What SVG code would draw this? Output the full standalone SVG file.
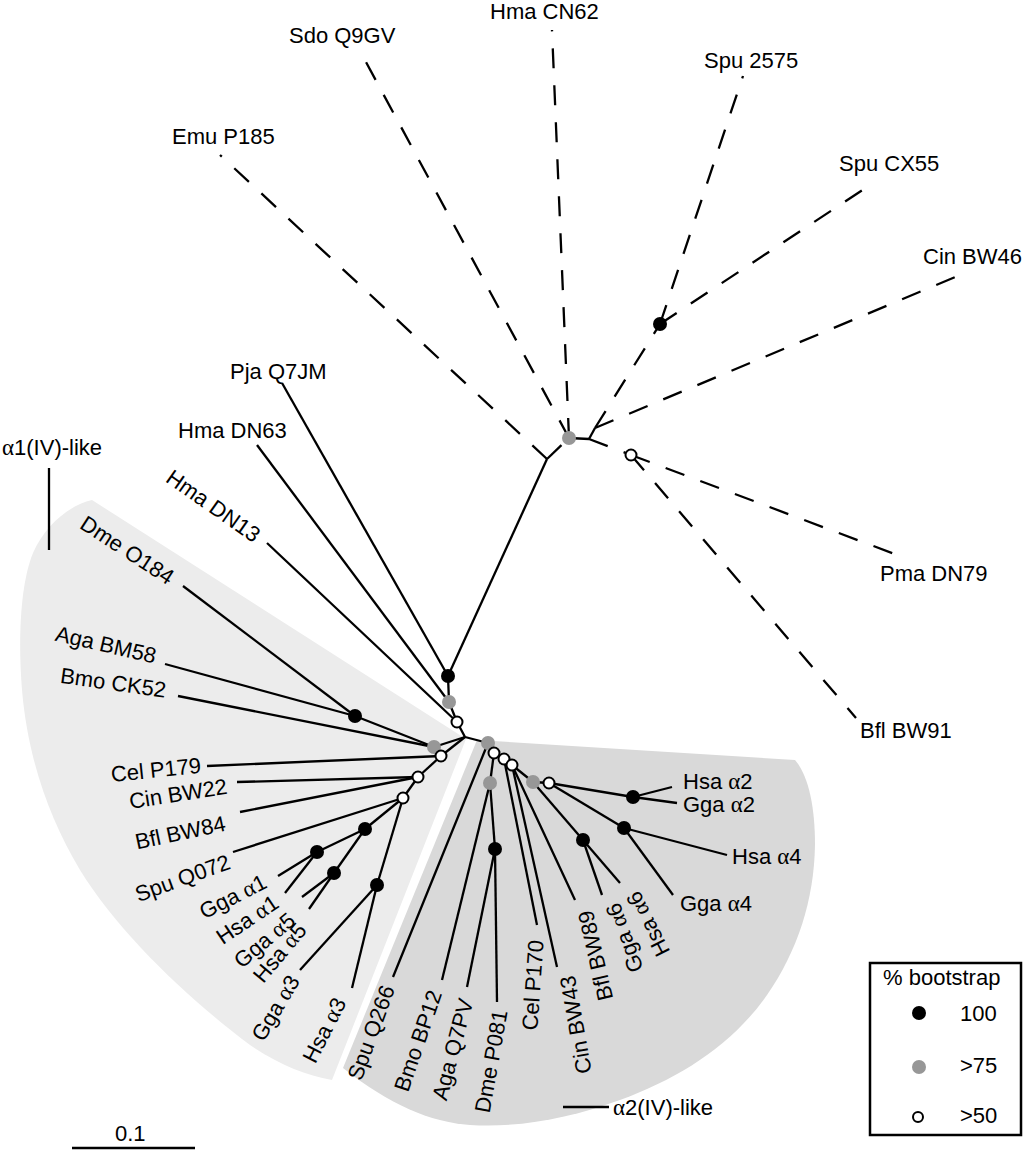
<svg xmlns="http://www.w3.org/2000/svg" width="1024" height="1153" viewBox="0 0 1024 1153">
<style>
.t{font-family:"Liberation Sans",Arial,sans-serif;font-size:22px;fill:#000}
.a{font-family:"Liberation Serif","DejaVu Serif",serif;font-size:23px}
.ln{stroke:#000;stroke-width:2.3;fill:none;stroke-linecap:butt}
.ds{stroke:#000;stroke-width:2.3;fill:none;stroke-dasharray:20 17}
.bk{fill:#000}
.gy{fill:#979797}
.wh{fill:#fff;stroke:#000;stroke-width:2}
</style>
<rect width="1024" height="1153" fill="#fff"/>
<g id="regions">
<path id="alpha1-region" d="M466,739 L92,500 C70,505 45,525 33,553 C20,585 18,640 22,690 C28,760 50,820 80,870 C120,935 190,1000 250,1045 C280,1065 305,1075 332,1080 Z" fill="#ececec"/>
<path id="alpha2-region" d="M477,740 L795,760 C808,775 815,805 815,845 C814,900 798,950 767,995 C732,1045 680,1078 620,1100 C570,1118 520,1128 470,1125 C430,1122 390,1105 343,1068 Z" fill="#d9d9d9"/>
</g>
<g id="connectors">
<line class="ln" x1="448" y1="676" x2="547" y2="459"/>
<line class="ln" x1="448" y1="676" x2="282" y2="383"/>
<line class="ln" x1="449" y1="702" x2="448" y2="676"/>
<line class="ln" x1="449" y1="702" x2="257" y2="445"/>
<line class="ln" x1="457" y1="722" x2="449" y2="702"/>
<line class="ln" x1="457" y1="722" x2="267" y2="543"/>
<line class="ln" x1="465" y1="737" x2="457" y2="722"/>
<line class="ln" x1="465" y1="737" x2="434" y2="747"/>
<line class="ln" x1="465" y1="737" x2="441" y2="756"/>
<line class="ln" x1="465" y1="737" x2="488" y2="743"/>
<line class="ln" x1="434" y1="747" x2="355" y2="716"/>
<line class="ln" x1="434" y1="747" x2="178" y2="696"/>
<line class="ln" x1="355" y1="716" x2="183" y2="586"/>
<line class="ln" x1="355" y1="716" x2="165" y2="664"/>
<line class="ln" x1="441" y1="756" x2="207" y2="766"/>
<line class="ln" x1="441" y1="756" x2="418" y2="777"/>
<line class="ln" x1="418" y1="777" x2="237" y2="782"/>
<line class="ln" x1="418" y1="777" x2="240" y2="812"/>
<line class="ln" x1="418" y1="777" x2="403" y2="798"/>
<line class="ln" x1="403" y1="798" x2="233" y2="852"/>
<line class="ln" x1="403" y1="798" x2="365" y2="829"/>
<line class="ln" x1="403" y1="798" x2="377" y2="885"/>
<line class="ln" x1="365" y1="829" x2="317" y2="852"/>
<line class="ln" x1="365" y1="829" x2="334" y2="873"/>
<line class="ln" x1="317" y1="852" x2="278" y2="876"/>
<line class="ln" x1="317" y1="852" x2="285" y2="893"/>
<line class="ln" x1="334" y1="873" x2="302" y2="897"/>
<line class="ln" x1="334" y1="873" x2="309" y2="909"/>
<line class="ln" x1="377" y1="885" x2="300" y2="970"/>
<line class="ln" x1="377" y1="885" x2="352" y2="988"/>
<line class="ln" x1="488" y1="743" x2="393" y2="977"/>
<line class="ln" x1="488" y1="743" x2="494" y2="753"/>
<line class="ln" x1="494" y1="753" x2="490" y2="783"/>
<line class="ln" x1="494" y1="753" x2="504" y2="759"/>
<line class="ln" x1="490" y1="783" x2="442" y2="980"/>
<line class="ln" x1="490" y1="783" x2="495" y2="849"/>
<line class="ln" x1="495" y1="849" x2="467" y2="987"/>
<line class="ln" x1="495" y1="849" x2="497" y2="1002"/>
<line class="ln" x1="504" y1="759" x2="537" y2="925"/>
<line class="ln" x1="504" y1="759" x2="512" y2="765"/>
<line class="ln" x1="512" y1="765" x2="557" y2="967"/>
<line class="ln" x1="512" y1="765" x2="575" y2="900"/>
<line class="ln" x1="512" y1="765" x2="533" y2="782"/>
<line class="ln" x1="533" y1="782" x2="549" y2="783"/>
<line class="ln" x1="533" y1="782" x2="583" y2="840"/>
<line class="ln" x1="583" y1="840" x2="602" y2="895"/>
<line class="ln" x1="583" y1="840" x2="620" y2="883"/>
<line class="ln" x1="549" y1="783" x2="633" y2="797"/>
<line class="ln" x1="549" y1="783" x2="624" y2="828"/>
<line class="ln" x1="633" y1="797" x2="672" y2="787"/>
<line class="ln" x1="633" y1="797" x2="677" y2="803"/>
<line class="ln" x1="624" y1="828" x2="727" y2="855"/>
<line class="ln" x1="624" y1="828" x2="673" y2="895"/>
<line class="ds" x1="547" y1="459" x2="220" y2="155"/>
<line class="ds" x1="547" y1="459" x2="569" y2="438"/>
<line class="ds" x1="569" y1="438" x2="360" y2="51"/>
<line class="ds" x1="569" y1="438" x2="552" y2="30"/>
<line class="ln" x1="569" y1="438" x2="589" y2="439"/>
<line class="ln" x1="589" y1="439" x2="595" y2="428"/>
<line class="ds" x1="595" y1="428" x2="660" y2="324"/>
<line class="ds" x1="595" y1="428" x2="960" y2="275"/>
<line class="ds" x1="660" y1="324" x2="743" y2="76"/>
<line class="ds" x1="660" y1="324" x2="873" y2="183"/>
<line class="ds" x1="589" y1="439" x2="631" y2="455"/>
<line class="ds" x1="631" y1="455" x2="908" y2="559"/>
<line class="ds" x1="631" y1="455" x2="856" y2="718"/>
<line class="ln" x1="49" y1="468" x2="49" y2="550"/>
<line class="ln" x1="563" y1="1107" x2="609" y2="1107"/>
<line class="ln" x1="72" y1="1148" x2="195" y2="1148" stroke-width="2.5"/>
</g>
<g id="internal-nodes">
<g id="n-b1"><circle class="bk" cx="448" cy="676" r="7"/></g>
<g id="n-g2"><circle class="gy" cx="449" cy="702" r="7"/></g>
<g id="n-w2"><circle class="wh" cx="457" cy="722" r="5.5"/></g>
<g id="n-g3"><circle class="gy" cx="434" cy="747" r="7"/></g>
<g id="n-w3"><circle class="wh" cx="441" cy="756" r="5.5"/></g>
<g id="n-ba"><circle class="bk" cx="355" cy="716" r="7"/></g>
<g id="n-wa"><circle class="wh" cx="418" cy="777" r="5.5"/></g>
<g id="n-wb"><circle class="wh" cx="403" cy="798" r="5.5"/></g>
<g id="n-bk1"><circle class="bk" cx="365" cy="829" r="7"/></g>
<g id="n-bka1"><circle class="bk" cx="317" cy="852" r="7"/></g>
<g id="n-bka5"><circle class="bk" cx="334" cy="873" r="7"/></g>
<g id="n-bk3"><circle class="bk" cx="377" cy="885" r="7"/></g>
<g id="n-g4"><circle class="gy" cx="488" cy="743" r="7"/></g>
<g id="n-w4"><circle class="wh" cx="494" cy="753" r="5.5"/></g>
<g id="n-g6"><circle class="gy" cx="490" cy="783" r="7"/></g>
<g id="n-bkd"><circle class="bk" cx="495" cy="849" r="7"/></g>
<g id="n-w5"><circle class="wh" cx="504" cy="759" r="5.5"/></g>
<g id="n-w6"><circle class="wh" cx="512" cy="765" r="5.5"/></g>
<g id="n-g5"><circle class="gy" cx="533" cy="782" r="7"/></g>
<g id="n-w7"><circle class="wh" cx="549" cy="783" r="5.5"/></g>
<g id="n-bk6"><circle class="bk" cx="583" cy="840" r="7"/></g>
<g id="n-bka2"><circle class="bk" cx="633" cy="797" r="7"/></g>
<g id="n-bka4"><circle class="bk" cx="624" cy="828" r="7"/></g>
<g id="n-g1"><circle class="gy" cx="569" cy="438" r="7"/></g>
<g id="n-bks"><circle class="bk" cx="660" cy="324" r="7"/></g>
<g id="n-w1"><circle class="wh" cx="631" cy="455" r="5.5"/></g>
</g>
<g id="leaves">
<g id="l-emu"><text class="t" x="172" y="144">Emu P185</text></g>
<g id="l-sdo"><text class="t" x="289" y="43">Sdo Q9GV</text></g>
<g id="l-hmacn"><text class="t" x="490" y="19">Hma CN62</text></g>
<g id="l-spu2575"><text class="t" x="704" y="68">Spu 2575</text></g>
<g id="l-spucx"><text class="t" x="839" y="171">Spu CX55</text></g>
<g id="l-cinbw46"><text class="t" x="923" y="264">Cin BW46</text></g>
<g id="l-pma"><text class="t" x="880" y="581">Pma DN79</text></g>
<g id="l-bflbw91"><text class="t" x="860" y="738">Bfl BW91</text></g>
<g id="l-pja"><text class="t" x="230" y="379">Pja Q7JM</text></g>
<g id="l-hmadn63"><text class="t" x="178" y="438">Hma DN63</text></g>
<g id="l-hmadn13"><text class="t" text-anchor="end" dy="0.35em" transform="translate(258,537) rotate(35)">Hma DN13</text></g>
<g id="l-dme184"><text class="t" text-anchor="end" dy="0.35em" transform="translate(172,579) rotate(33)">Dme O184</text></g>
<g id="l-aga58"><text class="t" text-anchor="end" dy="0.35em" transform="translate(156,656) rotate(13)">Aga BM58</text></g>
<g id="l-bmo52"><text class="t" text-anchor="end" dy="0.35em" transform="translate(166,690) rotate(8)">Bmo CK52</text></g>
<g id="l-cel179"><text class="t" text-anchor="end" dy="0.35em" transform="translate(201,765) rotate(-6)">Cel P179</text></g>
<g id="l-cin22"><text class="t" text-anchor="end" dy="0.35em" transform="translate(227,786) rotate(-9)">Cin BW22</text></g>
<g id="l-bfl84"><text class="t" text-anchor="end" dy="0.35em" transform="translate(225,823) rotate(-12)">Bfl BW84</text></g>
<g id="l-spu072"><text class="t" text-anchor="end" dy="0.35em" transform="translate(229,861) rotate(-20)">Spu Q072</text></g>
<g id="l-gga1"><text class="t" text-anchor="end" dy="0.35em" transform="translate(265,880) rotate(-27)">Gga <tspan class="a">α</tspan>1</text></g>
<g id="l-hsa1"><text class="t" text-anchor="end" dy="0.35em" transform="translate(276,900) rotate(-34)">Hsa <tspan class="a">α</tspan>1</text></g>
<g id="l-gga5"><text class="t" text-anchor="end" dy="0.35em" transform="translate(292,917) rotate(-40)">Gga <tspan class="a">α</tspan>5</text></g>
<g id="l-hsa5"><text class="t" text-anchor="end" dy="0.35em" transform="translate(302,926) rotate(-50)">Hsa <tspan class="a">α</tspan>5</text></g>
<g id="l-gga3"><text class="t" text-anchor="end" dy="0.35em" transform="translate(294,977) rotate(-59)">Gga <tspan class="a">α</tspan>3</text></g>
<g id="l-hsa3"><text class="t" text-anchor="end" dy="0.35em" transform="translate(340,999) rotate(-63)">Hsa <tspan class="a">α</tspan>3</text></g>
<g id="l-spu266"><text class="t" text-anchor="end" dy="0.35em" transform="translate(388,986) rotate(-70)">Spu Q266</text></g>
<g id="l-bmo12"><text class="t" text-anchor="end" dy="0.35em" transform="translate(435,991) rotate(-71)">Bmo BP12</text></g>
<g id="l-aga7pv"><text class="t" text-anchor="end" dy="0.35em" transform="translate(466,999) rotate(-75)">Aga Q7PV</text></g>
<g id="l-dme081"><text class="t" text-anchor="end" dy="0.35em" transform="translate(500,1010) rotate(-80)">Dme P081</text></g>
<g id="l-cel170"><text class="t" text-anchor="end" dy="0.35em" transform="translate(536,940) rotate(-86)">Cel P170</text></g>
<g id="l-cin43"><text class="t" text-anchor="end" dy="0.35em" transform="translate(567,976) rotate(-100)">Cin BW43</text></g>
<g id="l-bfl89"><text class="t" text-anchor="end" dy="0.35em" transform="translate(585,911) rotate(-103)">Bfl BW89</text></g>
<g id="l-gga6"><text class="t" text-anchor="end" dy="0.35em" transform="translate(612,904) rotate(-110)">Gga <tspan class="a">α</tspan>6</text></g>
<g id="l-hsa6"><text class="t" text-anchor="end" dy="0.35em" transform="translate(632,893) rotate(-117)">Hsa <tspan class="a">α</tspan>6</text></g>
<g id="l-hsa2"><text class="t" x="683" y="789">Hsa <tspan class="a">α</tspan>2</text></g>
<g id="l-gga2"><text class="t" x="683" y="812">Gga <tspan class="a">α</tspan>2</text></g>
<g id="l-hsa4"><text class="t" x="732" y="864">Hsa <tspan class="a">α</tspan>4</text></g>
<g id="l-gga4"><text class="t" x="680" y="911">Gga <tspan class="a">α</tspan>4</text></g>
</g>
<g id="group-labels">
<text class="t" x="2" y="455"><tspan class="a">α</tspan>1(IV)-like</text>
<text class="t" x="613" y="1115"><tspan class="a">α</tspan>2(IV)-like</text>
</g>
<g id="legend">
<rect x="870" y="963" width="151" height="172" fill="#fff" stroke="#000" stroke-width="2.5"/>
<text class="t" x="883" y="985">% bootstrap</text>
<circle class="bk" cx="919" cy="1013" r="7"/>
<text class="t" x="960" y="1021">100</text>
<circle class="gy" cx="919" cy="1067" r="7"/>
<text class="t" x="960" y="1073">&gt;75</text>
<circle class="wh" cx="918" cy="1117" r="5"/>
<text class="t" x="960" y="1123">&gt;50</text>
</g>
<g id="scale">
<text class="t" x="115" y="1141">0.1</text>
</g>
</svg>
